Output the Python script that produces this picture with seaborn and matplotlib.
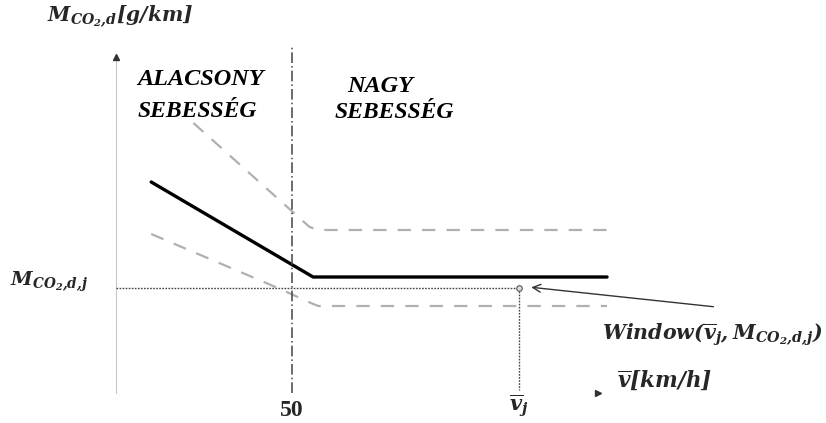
import matplotlib
matplotlib.use("Agg")
import matplotlib.pyplot as plt
import seaborn as sns
import pandas as pd

sns.set_style("white")
plt.rcParams["font.family"] = ["Liberation Serif", "DejaVu Serif"]
plt.rcParams["mathtext.fontset"] = "custom"
plt.rcParams["mathtext.bfit"] = "DejaVu Serif:italic:bold"
plt.rcParams["mathtext.bf"] = "DejaVu Serif:bold"
plt.rcParams["mathtext.it"] = "DejaVu Serif:italic:bold"
plt.rcParams["mathtext.rm"] = "DejaVu Serif:bold"

# Mean speed [km/h] and CO2 emission (schematic units)
speed_main = [10, 56, 139.5]
co2_main = [211, 116, 116]
speed_upper = [22, 55, 57.5, 139.5]
co2_upper = [270, 166, 163, 163]
speed_lower = [10, 46, 56, 57.5, 139.5]
co2_lower = [159, 105, 89, 87, 87]
speed_split = 50
speed_j = 114.5
co2_j = 105
axis_top = 336
axis_right = 137

tick_labels = ["50", r"$\mathbfit{\overline{v}_j}$"]

fig = plt.figure(figsize=(8.26, 4.23), dpi=100)
ax = fig.add_axes([0, 0, 1, 1])
ax.set_xlim(-32.95, 201.7)
ax.set_ylim(-30, 393)
ax.axis("off")

df_main = pd.DataFrame({"v": speed_main, "m": co2_main})
df_up = pd.DataFrame({"v": speed_upper, "m": co2_upper})
df_lo = pd.DataFrame({"v": speed_lower, "m": co2_lower})

# Confidence band (dashed grey) and the mean emission curve (solid black)
sns.lineplot(data=df_up, x="v", y="m", ax=ax, color="#b0b0b0", lw=1.6,
             sort=False, estimator=None, linestyle=(0, (6, 5)))
sns.lineplot(data=df_lo, x="v", y="m", ax=ax, color="#b0b0b0", lw=1.6,
             sort=False, estimator=None, linestyle=(0, (6, 5)))
sns.lineplot(data=df_main, x="v", y="m", ax=ax, color="black", lw=2.4,
             sort=False, estimator=None)

# Axes drawn as thin lines with small arrowheads
ax.plot([0, 0], [0, axis_top - 4], color="#c8c8c8", lw=0.8)
ax.plot([0], [axis_top], marker="^", color="#333333", ms=4)
ax.plot([axis_right], [0], marker=">", color="#333333", ms=4)

# Low/high speed boundary
ax.plot([speed_split, speed_split], [0, 348], color="#444444", lw=1.1,
        linestyle=(0, (7, 2, 1, 2)))

# Window point and its projections
ax.plot([0, speed_j], [co2_j, co2_j], color="#444444", lw=1.0,
        linestyle=(0, (1.2, 1)))
ax.plot([speed_j, speed_j], [co2_j, 3], color="#444444", lw=1.0,
        linestyle=(0, (1.2, 1)))
ax.plot([speed_j], [co2_j], marker="o", ms=4, mfc="#dddddd", mec="#555555", mew=0.8)

ax.annotate("", xy=(117.2, 106), xytext=(170.5, 86),
            arrowprops=dict(arrowstyle="->", color="#333333", lw=1.0,
                            mutation_scale=14))

tx = dict(fontweight="bold", style="italic", color="black", va="baseline", ha="left")
ax.text(-19.6, 376, r"$\mathbfit{M_{CO_2{,}d}[g/km]}$", fontsize=14.5, va="center", ha="left")
ax.text(-30.1, 111, r"$\mathbfit{M_{CO_2{,}d{,}j}}$", fontsize=14, va="center", ha="left")
ax.text(6.0, 308, "ALACSONY", fontsize=17.5, **tx)
ax.text(6.0, 276, "SEBESSÉG", fontsize=17, **tx)
ax.text(65.6, 301, "NAGY", fontsize=17.5, **tx)
ax.text(62.2, 275, "SEBESSÉG", fontsize=17, **tx)
ax.text(speed_split, -17, tick_labels[0], fontsize=17, fontweight="bold",
        va="center", ha="center")
ax.text(speed_j, -13, tick_labels[1], fontsize=15, va="center", ha="center")
ax.text(142.3, 13, r"$\mathbfit{\overline{v}[km/h]}$", fontsize=15.5, va="center", ha="left")
ax.text(138.0, 58, r"$\mathbfit{Window(\overline{v}_j, M_{CO_2{,}d{,}j})}$",
        fontsize=14.8, va="center", ha="left")

fig.savefig("out.png", dpi=100)
